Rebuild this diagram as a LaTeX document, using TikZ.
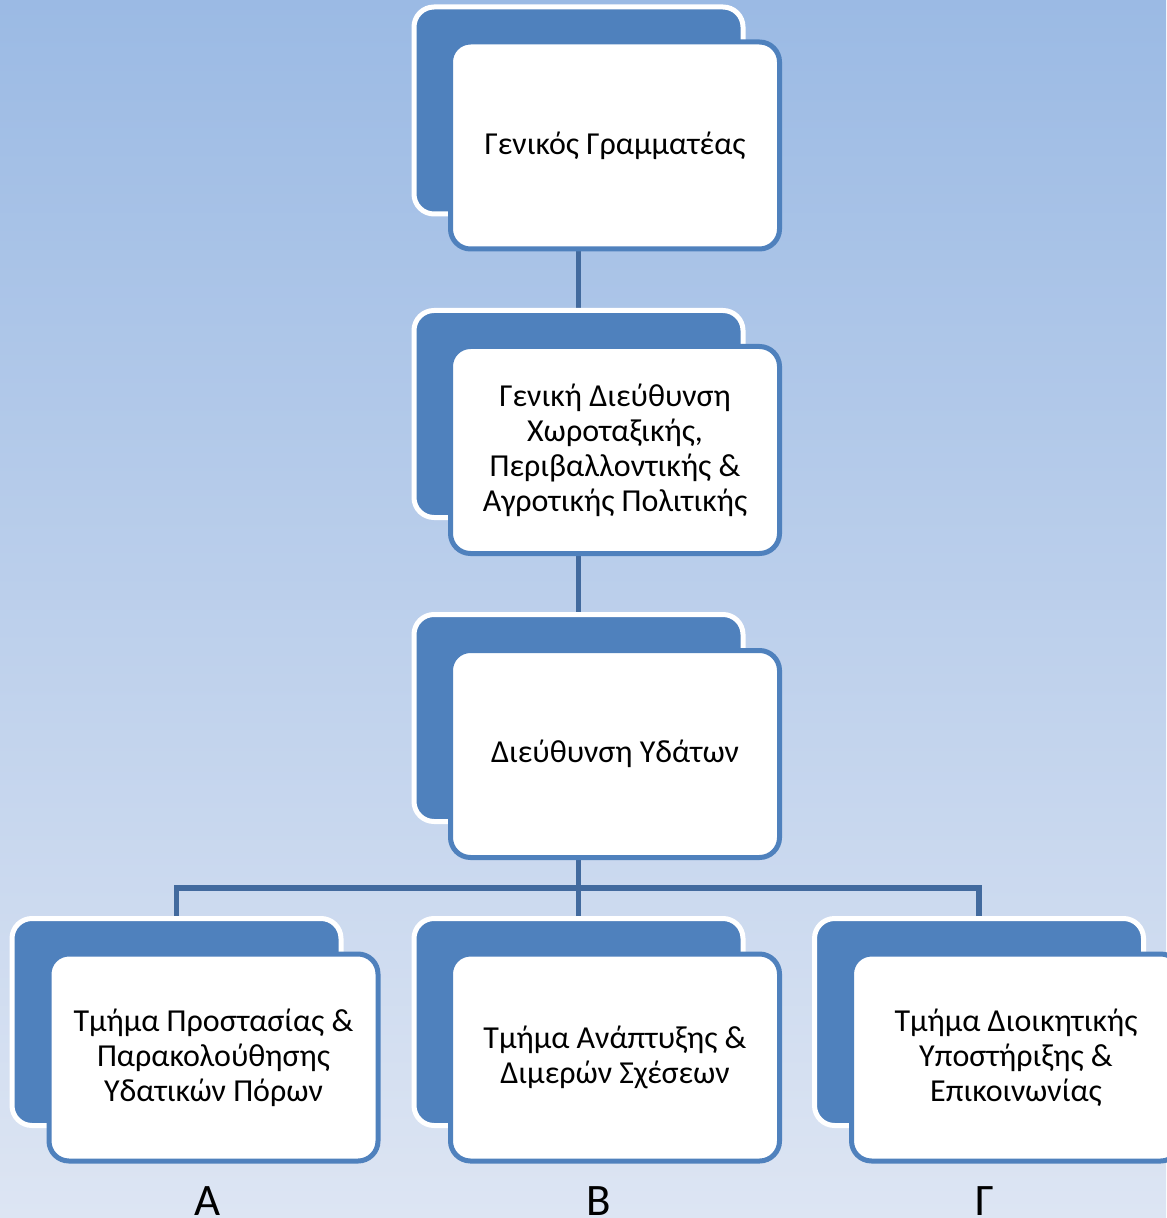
\documentclass[tikz,border=0pt]{standalone}
\usepackage{fontspec}
\setmainfont{Carlito}
\usetikzlibrary{backgrounds}

\definecolor{boxblue}{RGB}{79,129,189}
\definecolor{lineblue}{RGB}{66,106,158}
\definecolor{bgtop}{RGB}{155,186,228}
\definecolor{bgbottom}{RGB}{221,229,243}

\tikzset{
  backbox/.style={draw=white,fill=boxblue,line width=2.5pt,rounded corners=10pt,
    minimum width=164.5pt,minimum height=103.5pt},
  frontbox/.style={draw=boxblue,fill=white,line width=2.5pt,rounded corners=10pt,
    minimum width=164.5pt,minimum height=103.5pt,align=center,
    font=\fontsize{16pt}{17.5pt}\selectfont},
  link/.style={draw=lineblue,line width=2.8pt},
  letter/.style={anchor=base,font=\fontsize{22.5pt}{27pt}\selectfont}
}

\begin{document}
\begin{tikzpicture}[x=0.5pt,y=-0.5pt]
			\pgfdeclarelayer{bg}
			\pgfdeclarelayer{lines}
			\pgfsetlayers{bg,lines,main}
			\begin{pgfonlayer}{bg}
				\shade[top color=bgtop,bottom color=bgbottom] (0,0) rectangle (1166,1218);
			\end{pgfonlayer}
			\useasboundingbox (0,0) rectangle (1166,1218);
			% top
			\node[backbox] (gsb) at (578.5,110.5) {};
			\node[frontbox] (gs) at (615,145.5) {Γενικός Γραμματέας};
			% second
			\node[backbox] (gdb) at (578.5,414) {};
			\node[frontbox] (gd) at (615,450) {Γενική Διεύθυνση\\Χωροταξικής,\\Περιβαλλοντικής \&\\Αγροτικής Πολιτικής};
			% third
			\node[backbox] (dyb) at (578.5,718) {};
			\node[frontbox] (dy) at (615,754) {Διεύθυνση Υδάτων};
			% departments
			\node[backbox] (tab) at (176.5,1022) {};
			\node[frontbox] (ta) at (213.5,1057.5) {Τμήμα Προστασίας \&\\Παρακολούθησης\\Υδατικών Πόρων};
			\node[backbox] (tbb) at (578.5,1022) {};
			\node[frontbox] (tb) at (615,1057.5) {Τμήμα Ανάπτυξης \&\\Διμερών Σχέσεων};
			\node[backbox] (tcb) at (979,1022) {};
			\node[frontbox] (tc) at (1016,1057.5) {Τμήμα Διοικητικής\\Υποστήριξης \&\\Επικοινωνίας};
			% letters
			\node[letter] (la) at (208,1215) {Α};
			\node[letter] (lb) at (599,1215) {Β};
			\node[letter] (lc) at (985,1215) {Γ};
			% connectors
			\begin{pgfonlayer}{lines}
				\coordinate (bus) at (578.5,888);
				\draw[link] (gsb.center) -- (gdb.center);
				\draw[link] (gdb.center) -- (dyb.center);
				\draw[link] (dyb.center) -- (bus);
				\draw[link] (tab.center) |- (bus) -| (tcb.center);
				\draw[link] (bus) -- (tbb.center);
			\end{pgfonlayer}
\end{tikzpicture}
\end{document}
